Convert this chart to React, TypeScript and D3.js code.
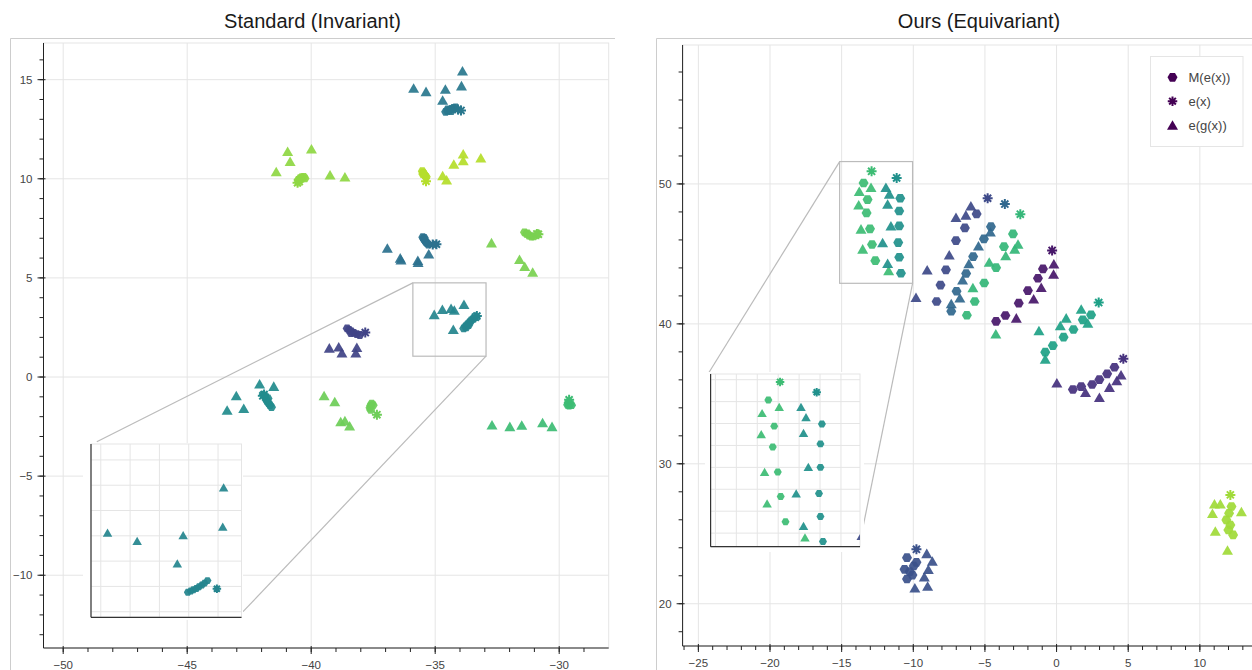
import React from 'react';
import * as d3 from 'd3';

type Pt = [number, number, number];

// ---------- left panel: Standard (Invariant) ----------
const leftColors = ['#2a788e', '#8fd744', '#b5de2b', '#2c718e', '#7ad151', '#25858e', '#414487', '#228c8d', '#6ece58', '#3dbc74'];

const leftTri: Pt[] = [
  [-33.9, 15.45, 0], [-35.87, 14.58, 0], [-35.37, 14.41, 0], [-34.59, 14.53, 0], [-33.94, 14.7, 0], [-34.7, 13.98, 0],
  [-40.95, 11.39, 1], [-39.99, 11.51, 1], [-40.85, 10.89, 1], [-41.41, 10.37, 1], [-39.24, 10.2, 1], [-38.64, 10.1, 1],
  [-34.7, 10.17, 2], [-34.54, 9.95, 2], [-34.25, 10.75, 2], [-33.87, 11.26, 2], [-33.87, 10.92, 2], [-33.16, 11.06, 2],
  [-36.93, 6.51, 3], [-36.41, 6.01, 3], [-36.38, 5.92, 3], [-35.7, 5.89, 3], [-35.69, 5.79, 3], [-35.26, 6.22, 3],
  [-32.73, 6.78, 4], [-31.6, 5.94, 4], [-31.39, 5.59, 4], [-31.07, 5.3, 4],
  [-35.04, 3.16, 5], [-34.71, 3.42, 5], [-34.36, 3.47, 5], [-34.23, 3.38, 5], [-33.84, 3.67, 5], [-34.27, 2.41, 5],
  [-39.27, 1.47, 6], [-38.89, 1.53, 6], [-38.76, 1.22, 6], [-38.2, 1.22, 6], [-38.16, 1.5, 6],
  [-42.08, -0.34, 7], [-41.51, -0.46, 7], [-43.02, -0.93, 7], [-43.39, -1.66, 7], [-42.72, -1.58, 7],
  [-39.48, -0.93, 8], [-39.05, -1.24, 8], [-38.81, -2.24, 8], [-38.64, -2.2, 8], [-38.45, -2.46, 8],
  [-32.71, -2.41, 9], [-31.99, -2.49, 9], [-31.51, -2.42, 9], [-30.67, -2.29, 9], [-30.29, -2.49, 9],
];

const leftHex: Pt[] = [
  [-34.58, 13.38, 0], [-34.5, 13.42, 0], [-34.42, 13.47, 0], [-34.34, 13.52, 0], [-34.26, 13.57, 0], [-34.18, 13.6, 0], [-34.5, 13.5, 0], [-34.35, 13.42, 0],
  [-40.52, 9.95, 1], [-40.45, 10.03, 1], [-40.38, 10.08, 1], [-40.3, 10.1, 1], [-40.25, 10.02, 1], [-40.42, 9.98, 1],
  [-35.52, 10.38, 2], [-35.48, 10.3, 2], [-35.44, 10.22, 2], [-35.4, 10.15, 2], [-35.36, 10.1, 2], [-35.5, 10.24, 2],
  [-35.5, 7.05, 3], [-35.46, 6.97, 3], [-35.42, 6.9, 3], [-35.38, 6.82, 3], [-35.33, 6.75, 3], [-35.28, 6.68, 3], [-35.44, 7.02, 3],
  [-31.4, 7.3, 4], [-31.32, 7.22, 4], [-31.22, 7.14, 4], [-31.12, 7.08, 4], [-31.02, 7.1, 4], [-31.28, 7.25, 4],
  [-33.85, 2.45, 5], [-33.78, 2.55, 5], [-33.7, 2.65, 5], [-33.62, 2.75, 5], [-33.55, 2.85, 5], [-33.47, 2.93, 5], [-33.75, 2.5, 5], [-33.65, 2.62, 5],
  [-38.55, 2.45, 6], [-38.47, 2.38, 6], [-38.38, 2.3, 6], [-38.28, 2.23, 6], [-38.16, 2.16, 6], [-38.04, 2.12, 6], [-38.4, 2.22, 6],
  [-41.86, -0.98, 7], [-41.82, -1.1, 7], [-41.78, -1.22, 7], [-41.72, -1.32, 7], [-41.66, -1.42, 7], [-41.6, -1.52, 7], [-41.74, -1.08, 7],
  [-37.56, -1.34, 8], [-37.6, -1.44, 8], [-37.63, -1.55, 8], [-37.6, -1.66, 8], [-37.5, -1.42, 8],
  [-29.64, -1.3, 9], [-29.56, -1.34, 9], [-29.6, -1.44, 9], [-29.5, -1.42, 9], [-29.66, -1.4, 9],
];

const leftStar: Pt[] = [
  [-33.96, 13.45, 0], [-34.08, 13.5, 0], [-40.55, 9.8, 1], [-40.48, 9.86, 1], [-35.37, 9.88, 2],
  [-34.95, 6.7, 3], [-35.1, 6.68, 3], [-30.9, 7.22, 4], [-30.84, 7.2, 4], [-33.38, 3.02, 5], [-33.32, 3.08, 5],
  [-37.82, 2.24, 6], [-41.95, -0.95, 7], [-41.9, -0.88, 7], [-37.35, -1.9, 8], [-29.6, -1.15, 9],
];

// zoomed inset of the left panel, in its own grid units
const zoomATri: Pt[] = [[0.23, 3.13, 5], [1.24, 2.8, 5], [2.81, 3.03, 5], [2.61, 1.91, 5], [4.19, 4.92, 5], [4.16, 3.36, 5]];
const zoomAHex: Pt[] = [
  [2.97, 0.77, 5], [3.07, 0.82, 5], [3.16, 0.87, 5], [3.26, 0.92, 5], [3.35, 0.99, 5], [3.45, 1.06, 5], [3.54, 1.13, 5], [3.64, 1.23, 5],
];
const zoomAStar: Pt[] = [[3.96, 0.91, 5]];

// ---------- right panel: Ours (Equivariant) ----------
const rightColors = ['#3e4a89', '#31688e', '#35b779', '#48186a', '#1fa187', '#46327e', '#3b528b', '#a0da39', '#3dbc74', '#21918c'];

const rightHex: Pt[] = [
  [-5.58, 47.86, 0], [-6.4, 46.86, 0], [-7.02, 45.95, 0], [-7.72, 43.86, 0], [-8.1, 42.77, 0], [-8.37, 41.6, 0],
  [-4.58, 46.95, 1], [-5.07, 46.07, 1], [-5.82, 44.81, 1], [-6.31, 43.6, 1], [-6.98, 42.33, 1], [-7.35, 40.9, 1],
  [-3.04, 46.43, 2], [-3.67, 45.52, 2], [-4.22, 44.02, 2], [-5.05, 42.92, 2], [-5.71, 41.6, 2], [-6.26, 40.62, 2],
  [-0.95, 43.93, 3], [-1.3, 43.26, 3], [-2.0, 42.38, 3], [-2.64, 41.48, 3], [-3.57, 40.6, 3], [-4.22, 40.18, 3],
  [2.41, 40.64, 4], [1.83, 40.29, 4], [1.18, 39.6, 4], [0.49, 39.05, 4], [-0.26, 38.45, 4], [-0.79, 37.98, 4],
  [4.04, 36.9, 5], [3.53, 36.43, 5], [2.99, 36.02, 5], [2.48, 35.67, 5], [1.72, 35.52, 5], [1.14, 35.31, 5],
  [-10.44, 23.29, 6], [-9.78, 22.96, 6], [-10.61, 22.46, 6], [-9.97, 22.7, 6], [-10.06, 22.05, 6], [-10.44, 21.77, 6], [-10.25, 22.3, 6],
  [12.21, 26.95, 7], [12.04, 26.47, 7], [11.85, 25.99, 7], [12.13, 25.63, 7], [11.99, 25.27, 7], [12.32, 24.92, 7],
  [-13.47, 50.07, 8], [-13.19, 48.88, 8], [-13.26, 47.93, 8], [-13.02, 46.79, 8], [-12.88, 45.67, 8], [-12.65, 44.52, 8],
  [-10.91, 48.98, 9], [-10.98, 48.07, 9], [-10.98, 47.0, 9], [-11.05, 45.81, 9], [-10.98, 44.76, 9], [-10.86, 43.62, 9],
];

const rightTri: Pt[] = [
  [-5.98, 48.45, 0], [-6.33, 47.79, 0], [-7.02, 47.62, 0], [-7.49, 44.94, 0], [-9.03, 43.87, 0], [-9.81, 41.9, 0],
  [-4.62, 46.58, 1], [-5.45, 45.58, 1], [-6.12, 44.31, 1], [-6.56, 43.15, 1], [-6.75, 41.86, 1], [-7.35, 41.45, 1],
  [-2.69, 45.71, 2], [-2.92, 45.36, 2], [-3.55, 44.88, 2], [-4.7, 44.43, 2], [-5.84, 42.6, 2], [-4.24, 39.3, 2],
  [-0.19, 44.29, 3], [-0.21, 43.57, 3], [-1.07, 42.62, 3], [-1.6, 41.79, 3], [-2.81, 40.43, 3],
  [1.72, 41.07, 4], [2.18, 40.07, 4], [0.67, 40.43, 4], [0.26, 39.88, 4], [-1.23, 39.52, 4], [-0.79, 37.5, 4],
  [4.5, 36.36, 5], [4.2, 35.95, 5], [3.69, 35.48, 5], [2.02, 35.12, 5], [0.02, 35.79, 5], [2.99, 34.76, 5],
  [-9.06, 23.6, 6], [-8.67, 23.05, 6], [-8.95, 22.46, 6], [-9.23, 21.93, 6], [-9.89, 21.15, 6], [-9.0, 21.26, 6],
  [11.02, 27.14, 7], [11.43, 27.14, 7], [10.88, 26.47, 7], [12.9, 26.59, 7], [11.08, 25.2, 7], [11.93, 23.84, 7],
  [-12.95, 49.76, 8], [-13.77, 49.48, 8], [-13.81, 48.52, 8], [-13.65, 46.79, 8], [-13.53, 45.36, 8], [-11.72, 43.81, 8],
  [-11.91, 49.76, 9], [-11.67, 49.29, 9], [-11.79, 48.57, 9], [-11.56, 47.02, 9], [-12.14, 45.81, 9], [-11.79, 44.33, 9],
];

const rightStar: Pt[] = [
  [-4.81, 48.98, 0], [-3.61, 48.56, 1], [-2.53, 47.84, 2], [-0.31, 45.25, 3], [2.94, 41.52, 4], [4.66, 37.5, 5],
  [-9.78, 23.89, 6], [12.13, 27.78, 7], [-12.91, 50.9, 8], [-11.16, 50.43, 9],
];

const legendLabels = ['M(e(x))', 'e(x)', 'e(g(x))'];

const leftXTicks = [-50, -45, -40, -35, -30];
const leftYTicks = [-10, -5, 0, 5, 10, 15];
const rightXTicks = [-25, -20, -15, -10, -5, 0, 5, 10];
const rightYTicks = [20, 30, 40, 50];

// ---------- marker shapes ----------
const hexD = (s: number) =>
  d3.range(6).map(i => {
    const a = (i * Math.PI) / 3;
    return `${i ? 'L' : 'M'}${((s / 2) * Math.cos(a)).toFixed(2)},${((s / 2) * Math.sin(a)).toFixed(2)}`;
  }).join('') + 'Z';
const triD = (s: number) => {
  const h = s * 0.866;
  return `M${-s / 2},${h / 2}L${s / 2},${h / 2}L0,${-h / 2}Z`;
};
const starD = (s: number) => {
  const r = s / 2, q = r * 0.707;
  return `M${-r},0L${r},0M0,${-r}L0,${r}M${-q},${-q}L${q},${q}M${-q},${q}L${q},${-q}`;
};

const fmt = d3.format('');
const GRID = '#e5e5e5';

function Marks({ x, y, hex, tri, star, colors, size }: any) {
  const [hs, ts, ss] = size;
  return (
    <g>
      {tri.map(([a, b, c]: Pt, i: number) => (
        <path key={`t${i}`} d={triD(ts)} transform={`translate(${x(a)},${y(b)})`} fill={colors[c]} fillOpacity={0.93} />
      ))}
      {hex.map(([a, b, c]: Pt, i: number) => (
        <path key={`h${i}`} d={hexD(hs)} transform={`translate(${x(a)},${y(b)})`} fill={colors[c]} fillOpacity={0.93} />
      ))}
      {star.map(([a, b, c]: Pt, i: number) => (
        <path key={`s${i}`} d={starD(ss)} transform={`translate(${x(a)},${y(b)})`} stroke={colors[c]} strokeWidth={2} fill="none" />
      ))}
    </g>
  );
}

function Grid({ x, y, xs, ys }: any) {
  const [x0, x1] = x.range();
  const [y1, y0] = y.range();
  return (
    <g stroke={GRID} strokeWidth={1}>
      {xs.map((v: number) => <line key={`gx${v}`} x1={x(v)} x2={x(v)} y1={y0} y2={y1} />)}
      {ys.map((v: number) => <line key={`gy${v}`} x1={x0} x2={x1} y1={y(v)} y2={y(v)} />)}
    </g>
  );
}

function Axes({ x, y, xTicks, yTicks, xStep, yStep }: any) {
  const [x0, x1] = x.range();
  const [y1, y0] = y.range();
  const [dx0, dx1] = x.domain();
  const [dy0, dy1] = y.domain();
  const xMinor = d3.range(Math.ceil(dx0 / xStep) * xStep, dx1, xStep);
  const yMinor = d3.range(Math.ceil(dy0 / yStep) * yStep, dy1, yStep);
  const xMaj = xTicks.filter((v: number) => v >= dx0 && v <= dx1);
  const yMaj = yTicks.filter((v: number) => v >= dy0 && v <= dy1);
  return (
    <g>
      <g stroke="#222" strokeWidth={1}>
        <line x1={x0} x2={x1} y1={y1} y2={y1} />
        <line x1={x0} x2={x0} y1={y0} y2={y1} />
        {xMinor.map((v: number) => <line key={`mx${v}`} x1={x(v)} x2={x(v)} y1={y1} y2={y1 + 4} />)}
        {yMinor.map((v: number) => <line key={`my${v}`} x1={x0 - 4} x2={x0} y1={y(v)} y2={y(v)} />)}
        {xMaj.map((v: number) => <line key={`Mx${v}`} x1={x(v)} x2={x(v)} y1={y1 - 2} y2={y1 + 6} />)}
        {yMaj.map((v: number) => <line key={`My${v}`} x1={x0 - 6} x2={x0 + 2} y1={y(v)} y2={y(v)} />)}
      </g>
      <g fill="#444" fontSize={11.5}>
        {xMaj.map((v: number) => (
          <text key={`lx${v}`} x={x(v)} y={y1 + 20.5} textAnchor="middle">{fmt(v)}</text>
        ))}
        {yMaj.map((v: number) => (
          <text key={`ly${v}`} x={x0 - 11} y={y(v)} dy="0.35em" textAnchor="end">{fmt(v)}</text>
        ))}
      </g>
    </g>
  );
}

function Inset({ id, bg, x, y, gx, gy, children }: any) {
  const [x0, x1] = x.range();
  const [y1, y0] = y.range();
  return (
    <g>
      <rect x={bg[0]} y={bg[1]} width={bg[2] - bg[0]} height={bg[3] - bg[1]} fill="#fff" />
      <Grid x={x} y={y} xs={gx} ys={gy} />
      <rect x={x0} y={y0} width={x1 - x0} height={y1 - y0} fill="none" stroke={GRID} />
      <clipPath id={id}><rect x={x0} y={y0} width={x1 - x0} height={y1 - y0} /></clipPath>
      <g clipPath={`url(#${id})`}>{children}</g>
      <g stroke="#333" strokeWidth={1.2}>
        <line x1={x0} x2={x0} y1={y0} y2={y1} />
        <line x1={x0} x2={x1} y1={y1} y2={y1} />
      </g>
    </g>
  );
}

export default function App() {
  // left panel scales
  const lx = d3.scaleLinear().domain([-50.794, -28.004]).range([43.5, 608.7]);
  const ly = d3.scaleLinear().domain([-13.67, 16.85]).range([648, 43]);
  // left inset scales (own grid units)
  const ax = d3.scaleLinear().domain([-0.334, 4.8]).range([91, 241.5]);
  const ay = d3.scaleLinear().domain([-0.22, 6.63]).range([617.3, 444]);
  const boxA = { x: [-35.9, -32.95], y: [1.05, 4.75] };

  // right panel scales
  const rx = d3.scaleLinear().domain([-26.1, 16.99]).range([682.6, 1300]);
  const ry = d3.scaleLinear().domain([16.98, 59.93]).range([646, 45]);
  const bx = d3.scaleLinear().domain([-16.23, -9.09]).range([710.6, 860]);
  const by = d3.scaleLinear().domain([43.38, 51.26]).range([546.7, 374]);
  const boxB = { x: [-15.14, -10.05], y: [42.9, 51.6] };

  const legendGlyphs = [hexD(10), starD(9.5), triD(11)];

  return (
    <svg width={1252} height={670} style={{ position: 'absolute', left: 0, top: 0, background: '#fff' }}
      fontFamily="'Liberation Sans', Arial, Helvetica, sans-serif">
      <rect width={1252} height={670} fill="#fff" />

      {/* ---------- left ---------- */}
      <g>
        <text x={312.5} y={28} textAnchor="middle" fontSize={20} fill="#1a1a1a">Standard (Invariant)</text>
        <g stroke="#cdcdcd">
          <line x1={10.5} x2={615} y1={38.5} y2={38.5} />
          <line x1={10.5} x2={10.5} y1={38.5} y2={670} />
        </g>
        <rect x={43.5} y={43} width={608.7 - 43.5} height={605} fill="none" stroke={GRID} />
        <Grid x={lx} y={ly} xs={leftXTicks} ys={leftYTicks} />
        <clipPath id="clipL"><rect x={43.5} y={43} width={608.7 - 43.5} height={605} /></clipPath>
        <g clipPath="url(#clipL)">
          <Marks x={lx} y={ly} hex={leftHex} tri={leftTri} star={leftStar} colors={leftColors} size={[9, 11, 10]} />
        </g>
        <g stroke="#bbb" strokeWidth={1.2} fill="none">
          <rect x={lx(boxA.x[0])} y={ly(boxA.y[1])} width={lx(boxA.x[1]) - lx(boxA.x[0])} height={ly(boxA.y[0]) - ly(boxA.y[1])} />
          <line x1={lx(boxA.x[0])} y1={ly(boxA.y[1])} x2={96.8} y2={441.7} />
          <line x1={lx(boxA.x[1])} y1={ly(boxA.y[0])} x2={243} y2={611.7} />
        </g>
        <Axes x={lx} y={ly} xTicks={leftXTicks} yTicks={leftYTicks} xStep={1} yStep={1} />
        <Inset id="clipLI" bg={[83, 443, 243, 620]} x={ax} y={ay} gx={d3.range(0, 5)} gy={d3.range(0, 7)}>
          <Marks x={ax} y={ay} hex={zoomAHex} tri={zoomATri} star={zoomAStar} colors={leftColors} size={[8, 9.5, 8.5]} />
        </Inset>
      </g>

      {/* ---------- right ---------- */}
      <g>
        <text x={979} y={28} textAnchor="middle" fontSize={20} fill="#1a1a1a">Ours (Equivariant)</text>
        <g stroke="#cdcdcd">
          <line x1={656.5} x2={1252} y1={38.5} y2={38.5} />
          <line x1={656.5} x2={656.5} y1={38.5} y2={670} />
        </g>
        <rect x={682.6} y={45} width={1300 - 682.6} height={601} fill="none" stroke={GRID} />
        <Grid x={rx} y={ry} xs={rightXTicks} ys={rightYTicks} />
        <clipPath id="clipR"><rect x={682.6} y={45} width={1300 - 682.6} height={601} /></clipPath>
        <g clipPath="url(#clipR)">
          <Marks x={rx} y={ry} hex={rightHex} tri={rightTri} star={rightStar} colors={rightColors} size={[10, 11, 10]} />
        </g>
        <g stroke="#bbb" strokeWidth={1.2} fill="none">
          <rect x={rx(boxB.x[0])} y={ry(boxB.y[1])} width={rx(boxB.x[1]) - rx(boxB.x[0])} height={ry(boxB.y[0]) - ry(boxB.y[1])} />
          <line x1={rx(boxB.x[0])} y1={ry(boxB.y[1])} x2={707.4} y2={375} />
          <line x1={rx(boxB.x[1])} y1={ry(boxB.y[0])} x2={858.2} y2={550.7} />
        </g>
        <Axes x={rx} y={ry} xTicks={rightXTicks} yTicks={rightYTicks} xStep={1} yStep={2} />
        <Inset id="clipRI" bg={[705, 372, 864, 552]} x={bx} y={by} gx={d3.range(-16, -9)} gy={d3.range(44, 52)}>
          <Marks x={bx} y={by} hex={rightHex} tri={rightTri} star={rightStar} colors={rightColors} size={[8, 9.5, 8.5]} />
        </Inset>

        {/* legend */}
        <rect x={1150.5} y={56.5} width={92.5} height={90} fill="#fff" fillOpacity={0.95} stroke={GRID} />
        {legendLabels.map((t, i) => (
          <g key={t} transform={`translate(0,${77.3 + i * 23.9})`}>
            {i === 1
              ? <path d={legendGlyphs[i]} transform="translate(1172.5,0)" stroke="#440154" strokeWidth={2} fill="none" />
              : <path d={legendGlyphs[i]} transform="translate(1172.5,0)" fill="#440154" />}
            <text x={1188.5} dy="0.35em" fontSize={13} fill="#444">{t}</text>
          </g>
        ))}
      </g>
    </svg>
  );
}
